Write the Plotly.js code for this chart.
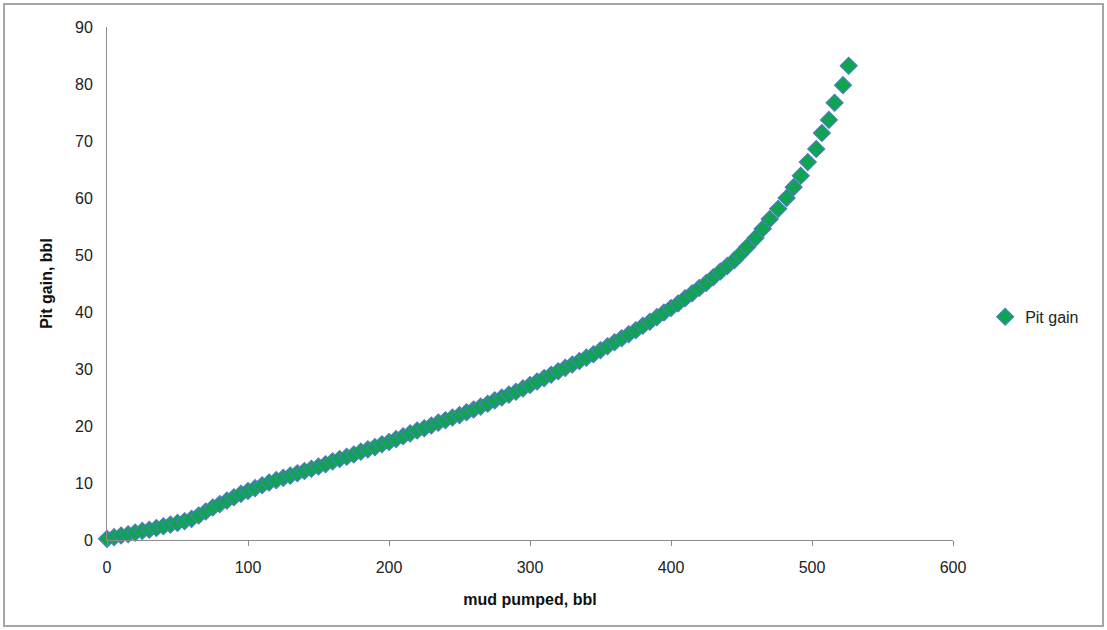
<!DOCTYPE html>
<html>
<head>
<meta charset="utf-8">
<script src="https://cdn.plot.ly/plotly-3.0.1.min.js"></script>
<style>
html,body{margin:0;padding:0;background:#fff;}
#chart{width:1107px;height:630px;}
</style>
</head>
<body>
<div id="chart"></div>
<script>
const mudPumped = [0,5,10,15,20,25,30,35,40,45,50,55,60,65,70,75,80,85,90,95,
  100,105,110,115,120,125,130,135,140,145,150,155,160,165,170,175,180,185,190,195,
  200,205,210,215,220,225,230,235,240,245,250,255,260,265,270,275,280,285,290,295,
  300,305,310,315,320,325,330,335,340,345,350,355,360,365,370,375,380,385,390,395,
  400,405,410,415,420,425,430,435,440,445,449,454,460,465,470,476,482,487,492,497,
  503,507,512,516,522,526];
const pitGain = [0.2,0.5,0.8,1.0,1.3,1.6,1.8,2.1,2.4,2.7,3.0,3.3,3.7,4.3,5.0,5.7,6.3,6.9,7.5,8.1,
  8.6,9.1,9.6,10.1,10.5,10.9,11.3,11.7,12.1,12.5,12.9,13.3,13.8,14.2,14.6,15.0,15.5,15.9,16.3,16.8,
  17.2,17.7,18.2,18.7,19.2,19.6,20.1,20.6,21.0,21.5,21.9,22.4,22.9,23.4,23.9,24.5,25.0,25.5,26.0,26.6,
  27.2,27.8,28.4,29.0,29.6,30.2,30.8,31.4,32.0,32.6,33.3,34.0,34.7,35.4,36.1,36.8,37.6,38.3,39.1,39.9,
  40.7,41.5,42.4,43.3,44.2,45.1,46.1,47.1,48.1,49.1,50.1,51.4,53.0,54.6,56.3,58.1,60.0,61.9,63.9,66.3,
  68.6,71.4,73.7,76.7,79.8,83.2];
const seriesName = 'Pit gain';
const xTitle = 'mud pumped, bbl';
const yTitle = 'Pit gain, bbl';

const font = 'Liberation Sans, Arial, sans-serif';

const trace = {
  x: mudPumped, y: pitGain, name: seriesName,
  type: 'scatter', mode: 'markers', cliponaxis: false,
  marker: {symbol: 'diamond', size: 13, color: '#0fa451', line: {color: '#4a7ebb', width: 1.2}}
};

const layout = {
  width: 1107, height: 630,
  margin: {l: 107, r: 154, t: 27, b: 90},
  paper_bgcolor: '#ffffff', plot_bgcolor: '#ffffff',
  font: {family: font, size: 16, color: '#222'},
  showlegend: true,
  legend: {x: 1.038, xanchor: 'left', y: 0.435, yanchor: 'middle', itemwidth: 30,
    font: {family: font, size: 16, color: '#222'}, bgcolor: 'rgba(0,0,0,0)'},
  xaxis: {
    range: [0, 600], dtick: 100, tick0: 0, showgrid: false, zeroline: false,
    showline: true, linecolor: '#8c8c8c', linewidth: 1,
    ticks: 'outside', ticklen: 5, tickcolor: '#8c8c8c', ticklabelstandoff: 8,
    tickfont: {family: font, size: 16, color: '#222'},
    title: {text: '<b>' + xTitle + '</b>', font: {family: font, size: 16, color: '#111'}, standoff: 18}
  },
  yaxis: {
    range: [0, 90], dtick: 10, tick0: 0, showgrid: false, zeroline: false,
    showline: true, linecolor: '#8c8c8c', linewidth: 1,
    ticks: '', ticklabelstandoff: 10,
    tickfont: {family: font, size: 16, color: '#222'},
    title: {text: '<b>' + yTitle + '</b>', font: {family: font, size: 16, color: '#111'}, standoff: 18}
  },
  shapes: [{type: 'rect', xref: 'paper', yref: 'paper',
    x0: -0.1217, x1: 1.1773, y0: -0.1676, y1: 1.0448,
    line: {color: '#a6a6a6', width: 2}, fillcolor: 'rgba(0,0,0,0)', layer: 'below'}]
};

Plotly.newPlot('chart', [trace], layout, {displayModeBar: false, staticPlot: true});
</script>
</body>
</html>
